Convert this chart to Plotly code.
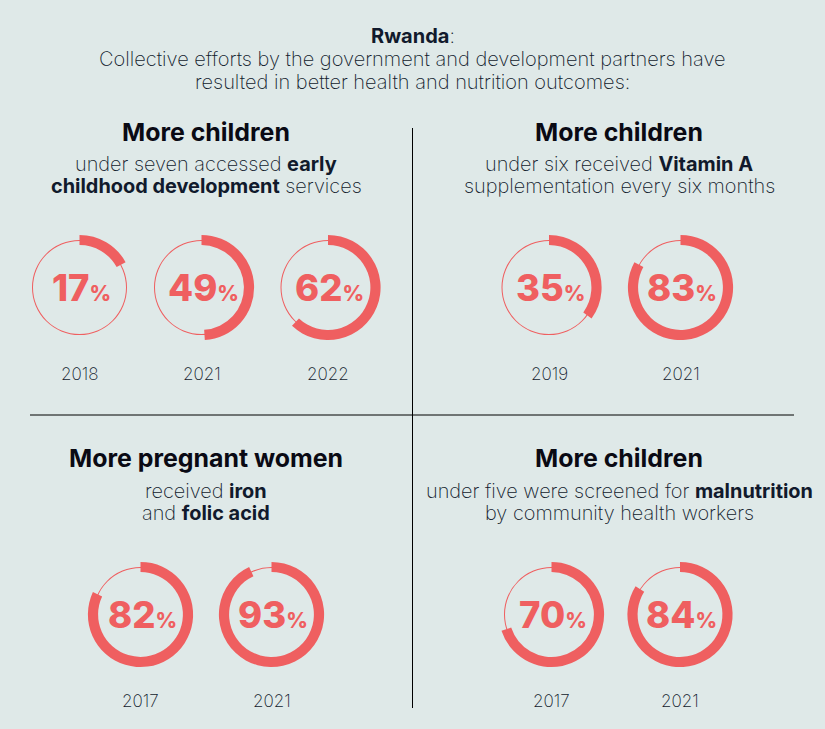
import plotly.graph_objects as go

W, H = 825, 729
BG = "#dfe9e8"
RED = "#ef5f60"
INK = "#111a2c"
SANS = "Inter"

years_a = ["2018", "2021", "2022"]
values_a = [17, 49, 62]
years_b = ["2019", "2021"]
values_b = [35, 83]
years_c = ["2017", "2021"]
values_c = [82, 93]
years_d = ["2017", "2021"]
values_d = [70, 84]

title_lines = ["<b>Rwanda</b>:",
               "Collective efforts by the government and development partners have",
               "resulted in better health and nutrition outcomes:"]
heads = ["More children", "More children", "More pregnant women", "More children"]
subs = [["under seven accessed <b>early</b>", "<b>childhood development</b> services"],
        ["under six received <b>Vitamin A</b>", "supplementation every six months"],
        ["received <b>iron</b>", "and <b>folic acid</b>"],
        ["under five were screened for <b>malnutrition</b>", "by community health workers"]]

panels = [
    (years_a, values_a, [79.5, 201.5, 328], 287.5, 374, 206, 132, (164, 186)),
    (years_b, values_b, [549, 680.5], 287.5, 374, 619, 132, (164, 186)),
    (years_c, values_c, [140.5, 271.5], 614.5, 701, 206, 458, (491, 513)),
    (years_d, values_d, [551.5, 680], 614.5, 701, 619, 458, (491, 513)),
]

fig = go.Figure()
R_THIN, R_OUT, R_IN = 47.5, 52.6, 42.4


def ring(cx, cy, r, hole_px, vals, colors):
    fig.add_trace(go.Pie(
        values=vals, sort=False, direction="clockwise", rotation=0,
        hole=hole_px / r, textinfo="none", hoverinfo="skip", showlegend=False,
        marker=dict(colors=colors, line=dict(width=0)),
        domain=dict(x=[(cx - r) / W, (cx + r) / W],
                    y=[1 - (cy + r) / H, 1 - (cy - r) / H]),
    ))


def label(x, y, text, size, color=INK, weight=300):
    fig.add_annotation(x=x / W, y=1 - y / H, xref="paper", yref="paper",
                       text=text, showarrow=False, xanchor="center", yanchor="middle",
                       font=dict(family=SANS, size=size, color=color, weight=weight))


for i, line in enumerate(title_lines):
    label(412.5, [36.5, 58.5, 81.5][i], line, 20, weight=200)

for (yrs, vals, xs, cy, ly, hx, hy, sy), head, sub in zip(panels, heads, subs):
    label(hx, hy, head, 24.9, "#0a0a14", weight=700)
    for t, y in zip(sub, sy):
        label(hx, y, t, 19.9, weight=200)
    for yr, v, cx in zip(yrs, vals, xs):
        ring(cx, cy, R_THIN, R_THIN - 1, [100], [RED])
        ring(cx, cy, R_OUT, R_IN, [v, 100 - v], [RED, "rgba(0,0,0,0)"])
        label(cx + 1.5, cy, '%d<span style="font-size:21px">%%</span>' % v, 36.5, RED, weight=800)
        label(cx, ly, yr, 17, weight=200)

fig.add_shape(type="line", xref="paper", yref="paper", x0=412.5 / W, x1=412.5 / W,
              y0=1 - 128 / H, y1=1 - 708 / H, line=dict(color="#000000", width=1))
fig.add_shape(type="line", xref="paper", yref="paper", x0=30 / W, x1=794 / W,
              y0=1 - 415 / H, y1=1 - 415 / H, line=dict(color="#000000", width=1))

fig.update_layout(width=W, height=H, margin=dict(l=0, r=0, t=0, b=0),
                  paper_bgcolor=BG, plot_bgcolor=BG)
fig.write_html("out.html", config=dict(displayModeBar=False),
               post_script="document.body.style.margin='0';document.body.style.background='%s';" % BG)
